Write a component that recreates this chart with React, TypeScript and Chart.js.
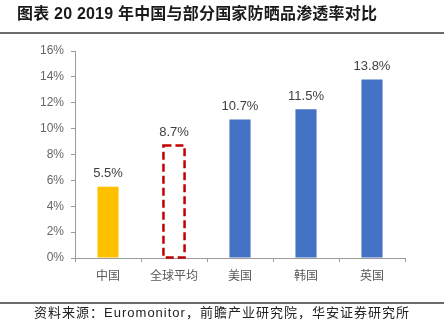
import React, { useEffect, useRef } from "react";
import { Chart, registerables } from "chart.js";

Chart.register(...registerables);

const categories = ["中国", "全球平均", "美国", "韩国", "英国"];
const values = [5.5, 8.7, 10.7, 11.5, 13.8];
const barColors = ["#FFC000", "rgba(0,0,0,0)", "#4472C4", "#4472C4", "#4472C4"];
const dashedIndex = 1;
const yMax = 16;
const yStep = 2;

const labelPlugin = {
  id: "valueLabels",
  afterDatasetsDraw(chart: any) {
    const ctx = chart.ctx;
    const meta = chart.getDatasetMeta(0);
    ctx.save();
    meta.data.forEach((bar: any, i: number) => {
      if (i === dashedIndex) {
        const half = bar.width / 2;
        ctx.strokeStyle = "#C00000";
        ctx.lineWidth = 2.5;
        ctx.setLineDash([8, 4]);
        ctx.strokeRect(bar.x - half, bar.y, bar.width, bar.base - bar.y);
        ctx.setLineDash([]);
      }
      ctx.fillStyle = "#404040";
      ctx.font = "13px 'Liberation Sans', Arial, sans-serif";
      ctx.textAlign = "center";
      ctx.textBaseline = "middle";
      ctx.fillText(values[i].toFixed(1) + "%", bar.x, bar.y - 13);
    });
    ctx.restore();
  },
};

export default function App() {
  const ref = useRef<HTMLCanvasElement>(null);
  useEffect(() => {
    if (!ref.current) return;
    const chart = new Chart(ref.current, {
      type: "bar",
      data: {
        labels: categories,
        datasets: [
          {
            data: values,
            backgroundColor: barColors,
            borderWidth: 0,
            barPercentage: 0.32,
            categoryPercentage: 1,
          },
        ],
      },
      options: {
        animation: false,
        responsive: false,
        maintainAspectRatio: false,
        layout: { padding: { left: 0, right: 39, top: 51, bottom: 47 } },
        plugins: {
          legend: { display: false },
          tooltip: { enabled: false },
          title: { display: false },
        },
        scales: {
          x: {
            afterFit: (s: any) => {
              s.height = 30;
            },
            grid: {
              display: true,
              offset: true,
              drawOnChartArea: false,
              drawTicks: true,
              tickLength: 4,
              color: "#9a9a9a",
            },
            border: { display: true, color: "#9a9a9a", width: 1 },
            ticks: {
              color: "#595959",
              padding: 6,
              font: { size: 12, family: "'Noto Sans CJK SC', sans-serif" },
            },
          },
          y: {
            min: 0,
            max: yMax,
            afterFit: (s: any) => {
              s.width = 75;
            },
            grid: {
              display: true,
              drawOnChartArea: false,
              drawTicks: true,
              tickLength: 4,
              color: "#9a9a9a",
            },
            border: { display: true, color: "#9a9a9a", width: 1 },
            ticks: {
              stepSize: yStep,
              padding: 7,
              color: "#666666",
              font: { size: 12, family: "'Liberation Sans', Arial, sans-serif" },
              callback: (v: any) => v + "%",
            },
          },
        },
      },
      plugins: [labelPlugin],
    });
    return () => chart.destroy();
  }, []);

  return (
    <div style={{ position: "fixed", left: 0, top: 0, width: 444, height: 335, background: "#fff", overflow: "hidden" }}>
      <canvas ref={ref} width={444} height={335} style={{ position: "absolute", left: 0, top: 0 }} />
      <div
        style={{
          position: "absolute",
          left: 17,
          top: 3,
          fontSize: 16,
          fontWeight: "bold",
          color: "#1a1a1a",
          fontFamily: "'Liberation Sans', 'Noto Sans CJK SC', sans-serif",
          whiteSpace: "nowrap",
          lineHeight: "22px",
          letterSpacing: "0.2px",
        }}
      >
        图表 20 2019 年中国与部分国家防晒品渗透率对比
      </div>
      <div style={{ position: "absolute", left: 0, top: 32, width: 444, height: 2, background: "#6b6b6b" }} />
      <div style={{ position: "absolute", left: 0, top: 302, width: 444, height: 1.5, background: "#6b6b6b" }} />
      <div
        style={{
          position: "absolute",
          left: 0,
          width: 444,
          top: 304,
          textAlign: "center",
          fontSize: 13,
          color: "#222",
          fontFamily: "'Liberation Sans', 'Noto Sans CJK SC', sans-serif",
          whiteSpace: "nowrap",
          lineHeight: "18px",
          letterSpacing: "1px",
        }}
      >
        资料来源：Euromonitor，前瞻产业研究院，华安证券研究所
      </div>
    </div>
  );
}
